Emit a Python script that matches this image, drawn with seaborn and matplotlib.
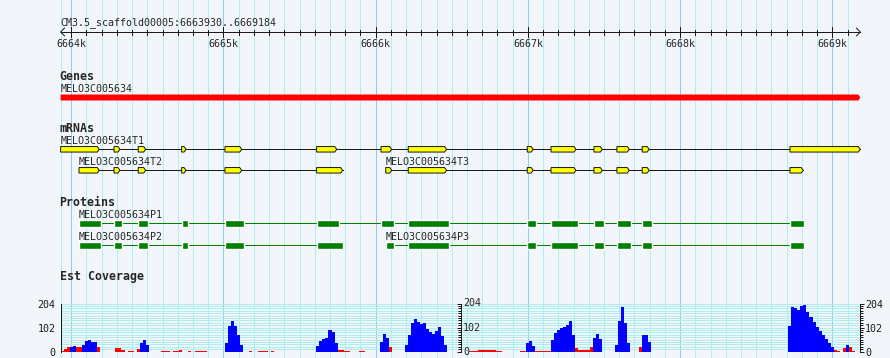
import numpy as np
import matplotlib
matplotlib.use('Agg')
import matplotlib.pyplot as plt
import seaborn as sns

# ----------------------------
# Data
# ----------------------------
ref_name = 'CM3.5_scaffold00005'
view_start = 6663930
view_end = 6669184

gene_name = 'MELO3C005634'
gene_span = (6663930, 6669184)

t1_exons = [(6663930, 6664184), (6664281, 6664320), (6664440, 6664489), (6664725, 6664754),
            (6665010, 6665120), (6665612, 6665744), (6666035, 6666105), (6666214, 6666466),
            (6666996, 6667035), (6667152, 6667316), (6667434, 6667489), (6667585, 6667666),
            (6667751, 6667797), (6668722, 6669184)]
t2_exons = [(6664051, 6664184), (6664281, 6664320), (6664440, 6664489), (6664725, 6664754),
            (6665010, 6665120), (6665612, 6665783)]
t3_exons = [(6666066, 6666105), (6666214, 6666466), (6666996, 6667035), (6667152, 6667316),
            (6667434, 6667489), (6667585, 6667666), (6667751, 6667797), (6668722, 6668809)]

p1_cds = [(6664051, 6664195), (6664281, 6664333), (6664440, 6664504), (6664729, 6664767),
          (6665010, 6665135), (6665612, 6665759), (6666035, 6666120), (6666214, 6666482),
          (6666996, 6667053), (6667152, 6667329), (6667434, 6667498), (6667585, 6667677),
          (6667750, 6667815), (6668722, 6668814)]
p2_cds = [(6664051, 6664195), (6664281, 6664333), (6664440, 6664504), (6664729, 6664767),
          (6665010, 6665135), (6665612, 6665783)]
p3_cds = [(6666068, 6666120), (6666214, 6666482), (6666996, 6667053), (6667152, 6667329),
          (6667434, 6667498), (6667585, 6667677), (6667750, 6667815), (6668722, 6668814)]

# EST coverage, 20 bp bins starting at cov_start
cov_start = 6663930
cov_bin = 20
est_cov = [
    4, 10, 18, 22, 24, 21, 20, 30, 44, 50,
    42, 40, 18, 0, 0, 0, 0, 0, 15, 15,
    6, 0, 4, 4, 0, 12, 38, 50, 30, 0,
    0, 0, 0, 3, 4, 4, 0, 4, 4, 6,
    0, 0, 3, 0, 4, 4, 4, 3, 0, 0,
    0, 0, 0, 0, 35, 110, 130, 110, 70, 30,
    0, 0, 3, 0, 0, 4, 4, 3, 0, 3,
    0, 0, 0, 0, 0, 0, 0, 0, 0, 0,
    0, 0, 0, 0, 25, 45, 52, 60, 90, 85,
    35, 8, 8, 5, 3, 0, 0, 0, 5, 5,
    0, 0, 0, 0, 0, 40, 75, 60, 20, 0,
    0, 0, 0, 30, 70, 120, 138, 125, 118, 120,
    98, 82, 74, 88, 104, 65, 30, 0, 0, 0,
    0, 0, 0, 0, 5, 5, 5, 7, 7, 7,
    7, 7, 7, 5, 3, 0, 0, 0, 0, 0,
    0, 4, 4, 35, 45, 25, 4, 4, 4, 4,
    4, 50, 80, 92, 100, 104, 112, 130, 70, 15,
    6, 6, 6, 8, 20, 60, 75, 55, 0, 0,
    0, 0, 30, 130, 190, 120, 35, 0, 0, 0,
    20, 70, 72, 40, 0, 0, 0, 0, 0, 0,
    0, 0, 0, 0, 0, 0, 0, 0, 0, 0,
    0, 0, 0, 0, 0, 0, 0, 0, 0, 0,
    0, 0, 0, 0, 0, 0, 0, 0, 0, 0,
    0, 0, 0, 0, 0, 0, 0, 0, 0, 110,
    190, 185, 175, 195, 198, 170, 148, 125, 105, 88,
    70, 52, 38, 22, 8, 3, 0, 15, 27, 20,
    5, 0, 0,
]
cov_split = 6666560   # second coverage feature starts here
cov_max = 204
cov_ticks = [0, 102, 204]
cov_cut = 22          # bins below this are drawn red

# ----------------------------
# Style / layout
# ----------------------------
sns.set_theme(style='white')
plt.rcParams['font.family'] = ['DejaVu Sans Mono']

BG = '#F2F5FA'
GRID_MINOR = '#AFEEEE'
GRID_MAJOR = '#8CCDEB'
LW = 0.72
SMALL = 7.2
BOLD = 8.4

W, H = 890, 358
X0, X1 = 60.6, 860.3
ppb = (X1 - X0) / (view_end - view_start)


def px(bp):
    return X0 + (bp - view_start) * ppb


fig = plt.figure(figsize=(W / 100, H / 100), dpi=100, facecolor=BG)
ax = fig.add_axes([0, 0, 1, 1])
ax.set_xlim(view_start - X0 / ppb, view_end + (W - X1) / ppb)
ax.set_ylim(H, 0)
ax.axis('off')

crisp = dict(lw=LW, antialiased=False)

# grid lines every 100 bp, darker every 1 kb
ticks = np.arange(6664000, view_end, 100)
major = ticks[ticks % 1000 == 0]
minor = ticks[ticks % 1000 != 0]
ax.vlines(np.r_[view_start, minor], 0, H, color=GRID_MINOR, zorder=0, **crisp)
ax.vlines(major, 0, H, color=GRID_MAJOR, zorder=0, **crisp)

# ruler
ax.text(view_start, 25, f'{ref_name}:{view_start}..{view_end}', fontsize=SMALL, va='baseline')
ax.hlines(32, view_start, view_end, color='k', **crisp)
ax.vlines(minor, 29.7, 34.7, color='k', **crisp)
ax.vlines(major, 27.3, 37.3, color='k', **crisp)
a = 4 / ppb
ax.plot([view_start + a, view_start, view_start + a], [28, 32, 36], color='k', lw=LW)
ax.plot([view_end - a, view_end, view_end - a], [28, 32, 36], color='k', lw=LW)
for m in major:
    ax.text(m, 46.7, f'{m // 1000}k', fontsize=SMALL, ha='center', va='baseline')

tip = 2 / ppb


def arrow_box(s, e, y, h, **kw):
    k = max(s, e - tip)
    ax.fill([s, k, e, k, s], [y - h / 2, y - h / 2, y, y + h / 2, y + h / 2], zorder=3, **kw)


def track_title(label, base):
    ax.text(view_start - 1 / ppb, base, label, fontsize=BOLD, fontweight='bold', va='baseline')


# Genes
track_title('Genes', 80)
ax.text(gene_span[0], 92.3, gene_name, fontsize=SMALL, va='baseline')
arrow_box(gene_span[0], gene_span[1], 97.5, 6, facecolor='#FF0000', edgecolor='none')

# mRNAs
track_title('mRNAs', 131.7)
for name, exons, y, base in [('T1', t1_exons, 149.3, 144.3),
                             ('T2', t2_exons, 170.3, 165),
                             ('T3', t3_exons, 170.3, 165)]:
    ax.text(exons[0][0], base, gene_name + name, fontsize=SMALL, va='baseline')
    ax.hlines(y, exons[0][0], exons[-1][1], color='k', zorder=2, **crisp)
    for s, e in exons:
        arrow_box(s, e, y, 5.5, facecolor='#FFFF00', edgecolor='k', lw=LW)

# Proteins
track_title('Proteins', 205.7)
for name, cds, y, base in [('P1', p1_cds, 223.3, 218.3),
                           ('P2', p2_cds, 245, 240),
                           ('P3', p3_cds, 245, 240)]:
    ax.text(cds[0][0], base, gene_name + name, fontsize=SMALL, va='baseline')
    ax.hlines(y, cds[0][0], cds[-1][1], color='#008000', zorder=2, **crisp)
    ax.broken_barh([(s, e - s) for s, e in cds], (y - 3.5, 7), facecolors='#008000', zorder=3)

# Est Coverage
track_title('Est Coverage', 280)
cov = np.array(est_cov)
pos = cov_start + cov_bin * np.arange(len(cov))
colors = np.where(cov < cov_cut, '#FF0000', '#0000FF')
Y0, Y1 = 351.7, 303.5


def cov_panel(s, e):
    c = fig.add_axes([px(s) / W, (H - Y0) / H, (px(e) - px(s)) / W, (Y0 - Y1) / H])
    c.set_facecolor('none')
    c.set_xlim(s, e)
    c.set_ylim(0, cov_max)
    levels = np.linspace(0, cov_max, 21)
    c.hlines(levels, s, e, color=GRID_MINOR, zorder=0, **crisp)
    m = (pos >= s) & (pos < e)
    c.bar(pos[m], cov[m], width=cov_bin, align='edge', color=colors[m], linewidth=0,
          antialiased=False, zorder=2)
    c.set_xticks([])
    c.set_yticks(cov_ticks)
    c.set_yticks(levels, minor=True)
    c.tick_params(axis='y', which='major', length=3, width=LW, color='k',
                  labelsize=SMALL, pad=0.5, labelcolor='k')
    c.tick_params(axis='y', which='minor', length=2.2, width=LW, color='k')
    for sp in c.spines.values():
        sp.set_visible(False)
    c.spines['left'].set_visible(True)
    c.spines['left'].set_color('k')
    c.spines['left'].set_linewidth(LW)
    return c


left = cov_panel(view_start, cov_split)
right = cov_panel(cov_split, view_end)
right.spines['right'].set_visible(True)
right.spines['right'].set_color('k')
right.spines['right'].set_linewidth(LW)
right.yaxis.set_ticks_position('both')
right.tick_params(axis='y', which='both', labelleft=False, labelright=True)
for v in cov_ticks:
    right.annotate(str(v), xy=(0, v), xycoords=right.get_yaxis_transform(),
                   xytext=(1.7, 0), textcoords='offset points',
                   fontsize=SMALL, ha='left', va='center')

fig.savefig('out.png', dpi=100, facecolor=BG)
